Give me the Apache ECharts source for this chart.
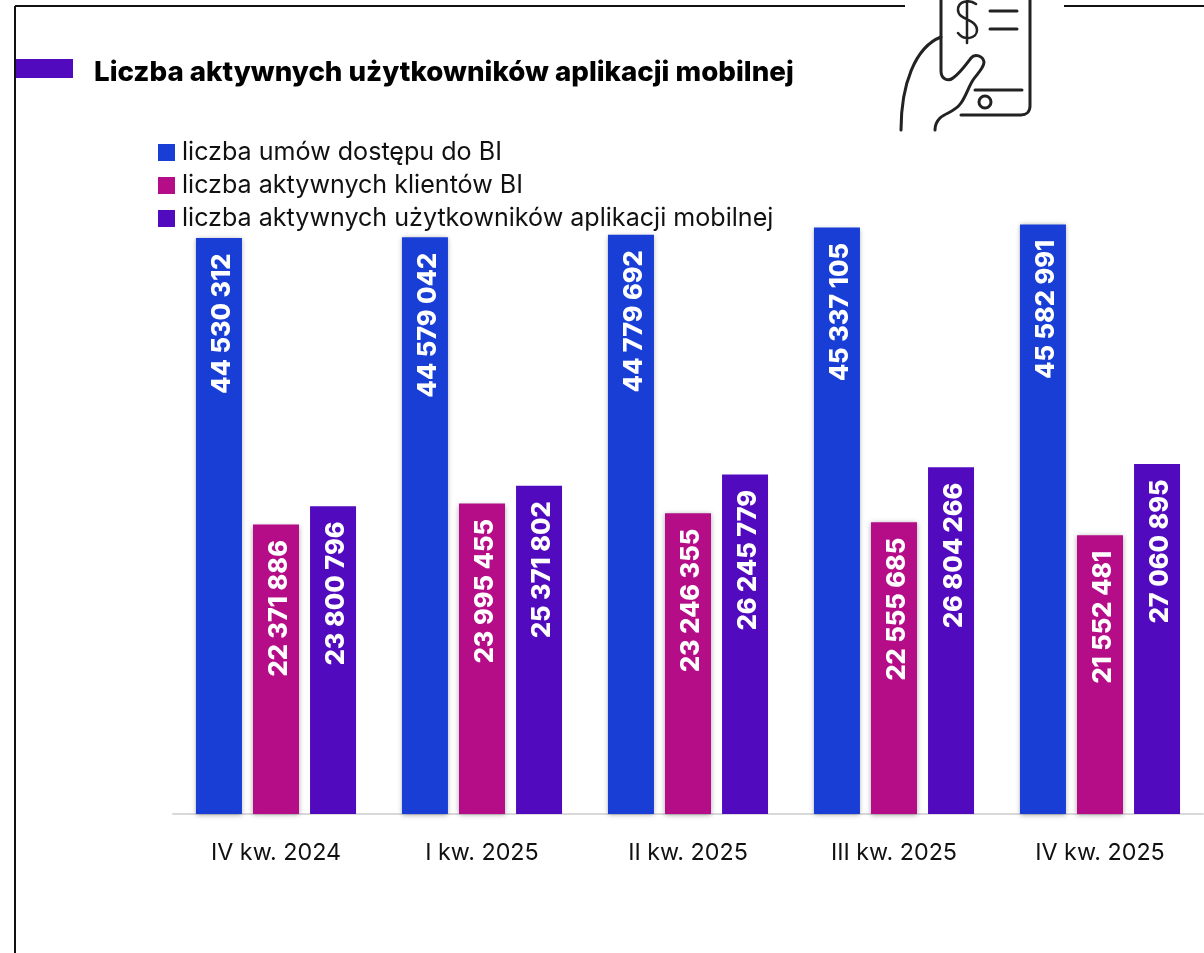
<!DOCTYPE html>
<html><head><meta charset="utf-8">
<style>html,body{margin:0;padding:0;background:#fff}#c{width:1204px;height:953px}</style>
<script src="https://cdn.jsdelivr.net/npm/echarts@6/dist/echarts.min.js"></script></head>
<body><div id="c"></div>
<script>
const categories = ['IV kw. 2024','I kw. 2025','II kw. 2025','III kw. 2025','IV kw. 2025'];
const umowy = [44530312,44579042,44779692,45337105,45582991];
const klienci = [22371886,23995455,23246355,22555685,21552481];
const uzytkownicy = [23800796,25371802,26245779,26804266,27060895];
const seriesNames = ['liczba umów dostępu do BI','liczba aktywnych klientów BI','liczba aktywnych użytkowników aplikacji mobilnej'];
const colors = ['#183ED6','#B50C87','#510ABE'];
const titleText = 'Liczba aktywnych użytkowników aplikacji mobilnej';
const F = 'Inter';
const fmt = v => String(v).replace(/\B(?=(\d{3})+$)/g,' ');
const mk = (name,data,color,shadow) => ({
  name,type:'bar',data,barWidth:46,barGap:'24%',
  itemStyle:{color,shadowColor:shadow?'rgba(0,0,0,0.35)':'rgba(0,0,0,0)',shadowBlur:shadow?5:0,shadowOffsetY:shadow?1:0},
  label:{show:true,position:'insideTop',distance:15.5,rotate:90,align:'right',verticalAlign:'middle',offset:[0,3],
    color:'#fff',fontFamily:F,fontWeight:800,fontSize:25.3,formatter:p=>fmt(p.value)},
  emphasis:{disabled:true},animation:false
});
const ink='#222';
const iconPaths = {
  iconFinger:'M941 0 L941 71 C941 79 948 82 953 78 C960 73 965 66 971 58 C975 53 983 56 984 62 C984 68 977 74 973 80 C968 88 966 96 961 103 C955 112 945 113 940 118 C936 122 935 126 935 130',
  iconHand:'M941 37 C915 47 901 85 901 130',
  iconPhone:'M1030 0 L1030 106 C1030 112 1026 115 1021 115 L961 115',
  iconDollar:'M976 4 C969 -1 958 1 958 10 C958 20 977 19 977 30 C977 39 964 41 958 33 M967 0 L967 43'
};
Object.keys(iconPaths).forEach(k=>echarts.graphic.registerShape(k,echarts.graphic.extendPath(iconPaths[k],{})));
const chart = echarts.init(document.getElementById('c'),null,{renderer:'canvas'});
chart.setOption({
  animation:false,
  backgroundColor:'#fff',
  grid:{left:173,width:1030,top:167.25,height:646.75},
  xAxis:{type:'category',data:categories,axisTick:{show:false},
    axisLine:{lineStyle:{color:'#D9D9D9',width:2}},
    axisLabel:{color:'#111',fontFamily:F,fontSize:23.3,margin:27}},
  yAxis:{type:'value',min:0,max:50000000,show:false,splitLine:{show:false}},
  legend:{orient:'vertical',left:158,top:140,padding:0,itemWidth:17,itemHeight:17,itemGap:8,
    icon:'rect',selectedMode:false,data:seriesNames,
    textStyle:{color:'#111',fontFamily:F,fontSize:25.1,lineHeight:25,padding:[0,0,0,2]}},
  series:[mk(seriesNames[0],umowy,colors[0],true),mk(seriesNames[1],klienci,colors[1],true),mk(seriesNames[2],uzytkownicy,colors[2],false)],
  graphic:[
    {type:'line',shape:{x1:15,y1:6,x2:905,y2:6},style:{stroke:'#111',lineWidth:2}},
    {type:'line',shape:{x1:1064,y1:6,x2:1204,y2:6},style:{stroke:'#111',lineWidth:2}},
    {type:'line',shape:{x1:15,y1:6,x2:15,y2:953},style:{stroke:'#111',lineWidth:2}},
    {type:'rect',shape:{x:16,y:59,width:57,height:19},style:{fill:colors[2]}},
    {type:'text',x:94,y:73,style:{text:titleText,fontFamily:F,fontWeight:800,fontSize:27.7,fill:'#000',verticalAlign:'middle'}},
    ...Object.keys(iconPaths).map(k=>({type:k,style:{fill:'none',stroke:ink,lineWidth:k==='iconDollar'?2.5:3,lineCap:'round'}})),
    {type:'line',shape:{x1:990,y1:11,x2:1017,y2:11},style:{stroke:ink,lineWidth:3,lineCap:'round'}},
    {type:'line',shape:{x1:990,y1:29,x2:1017,y2:29},style:{stroke:ink,lineWidth:3,lineCap:'round'}},
    {type:'line',shape:{x1:975,y1:90,x2:1022,y2:90},style:{stroke:ink,lineWidth:3,lineCap:'round'}},
    {type:'circle',shape:{cx:985,cy:102,r:6},style:{fill:'none',stroke:ink,lineWidth:3}}
  ]
});
</script></body></html>
